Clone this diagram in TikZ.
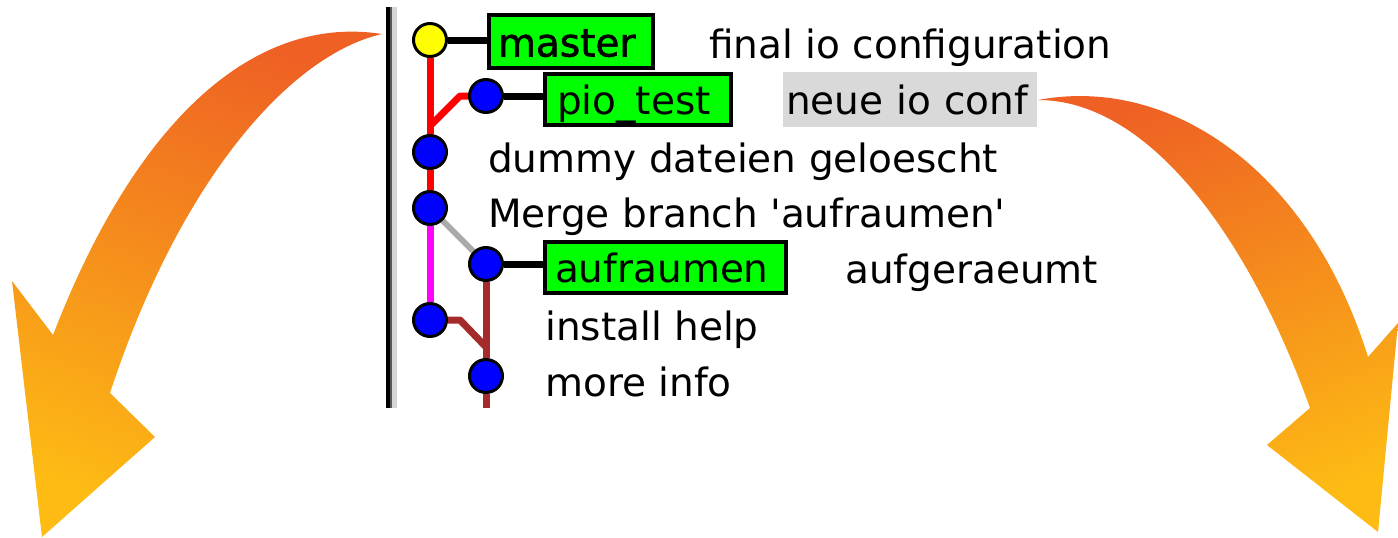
\documentclass[tikz,border=0pt]{standalone}
\usepackage{fontspec}
\newfontfamily\gk{DejaVu Sans}
\newfontfamily\gkb{DejaVu Sans}[FakeBold=1.5]
\usetikzlibrary{backgrounds}
\definecolor{arrtop}{HTML}{EE6024}
\definecolor{arrmid}{HTML}{F7941D}
\definecolor{arrbot}{HTML}{FDBB14}
\definecolor{gitgreen}{HTML}{00FF00}
\definecolor{commitblue}{HTML}{0000FF}
\definecolor{commityellow}{HTML}{FFFF00}
\definecolor{linered}{HTML}{FF0000}
\definecolor{linemag}{HTML}{FF00FF}
\definecolor{linebrown}{HTML}{A52A2A}
\definecolor{linegray}{HTML}{AAAAAA}
\definecolor{hlgray}{HTML}{D9D9D9}
\definecolor{rulegray}{HTML}{D6D6D6}
\begin{document}
\begin{tikzpicture}[x=1pt,y=-1pt,
  font=\gk\fontsize{39}{47}\selectfont,
  commit/.style={circle, draw=black, line width=3pt, fill=commitblue, minimum size=33pt, inner sep=0pt},
  headcommit/.style={commit, fill=commityellow},
  branchbox/.style={draw=black, line width=4pt, fill=gitgreen, anchor=north west, align=left, text height=30pt, text depth=0pt},
  hlbox/.style={fill=hlgray, anchor=north west, align=left, text height=30pt, text depth=0pt, inner xsep=3pt, text width=248pt, minimum height=55pt},
  lbl/.style={anchor=base west, inner sep=0pt},
  gline/.style={line width=7pt},
  tie/.style={line width=7pt, draw=black},
  bigarrow/.style={top color=arrtop, middle color=arrmid, bottom color=arrbot}
]
\useasboundingbox (0,0) rectangle (1398,538);

% curved arrows
\shade[bigarrow, shading angle=-20]
 (382,34) .. controls (260,15) and (140,110) .. (53,335)
 -- (12,281) -- (42,537) -- (155,437) -- (110,393)
 .. controls (180,180) and (290,55) .. (382,34) -- cycle;
\shade[bigarrow, shading angle=20]
 (1038,100) .. controls (1170,75) and (1310,170) .. (1368,357)
 -- (1398,323) -- (1378,532) -- (1267,445) -- (1310,408)
 .. controls (1250,240) and (1150,100) .. (1038,100) -- cycle;

% left rule
\draw[line width=4pt] (388,7) -- (388,408);
\draw[line width=2pt, color=black!65] (391,7) -- (391,408);
\draw[line width=5pt, color=rulegray] (394.5,7) -- (394.5,408);

% commits
\node[headcommit] (c1) at (430,40) {};
\node[commit] (c2) at (486,96) {};
\node[commit] (c3) at (430,152) {};
\node[commit] (c4) at (430,208) {};
\node[commit] (c5) at (486,264) {};
\node[commit] (c6) at (430,320) {};
\node[commit] (c7) at (486,376) {};
\coordinate (j1) at (430,126);
\coordinate (j2) at (486,347);
\coordinate (bot) at (486,408);

% branch boxes
\node[branchbox, inner xsep=9pt, text width=146pt, minimum height=53pt] (bm) at (487,13) {\gkb master};
\node[branchbox, inner xsep=12pt, text width=162pt, minimum height=51pt] (bp) at (543,72) {pio\_test};
\node[branchbox, inner xsep=10pt, text width=221pt, minimum height=51pt] (ba) at (543,240) {aufraumen};

% messages
\node[lbl] (m1) at (709,58) {final io configuration};
\node[hlbox] (m2) at (783,72) {neue io conf};
\node[lbl] (m3) at (488,172) {dummy dateien geloescht};
\node[lbl] (m4) at (488,227) {Merge branch 'aufraumen'};
\node[lbl] (m5) at (845,283) {aufgeraeumt};
\node[lbl] (m6) at (545,340) {install help};
\node[lbl] (m7) at (545,396) {more info};

\begin{pgfonlayer}{background}
\draw[gline, linered] (c1) -- (c3);
\draw[gline, linered] (c3) -- (c4);
\draw[gline, linered, line join=round] (c2) -- ++(-26,0) -- (j1);
\draw[gline, linegray, line width=6pt] (c4) -- (c5);
\draw[gline, linemag] (c4) -- (c6);
\draw[gline, linebrown] (c5) -- (c7);
\draw[gline, linebrown, line join=round] (c6) -- ++(30,0) -- (j2);
\draw[gline, linebrown] (c7) -- (bot);
\draw[tie] (c1) -- (c1 -| bm.west);
\draw[tie] (c2) -- (c2 -| bp.west);
\draw[tie] (c5) -- (c5 -| ba.west);
\end{pgfonlayer}
\end{tikzpicture}
\end{document}
